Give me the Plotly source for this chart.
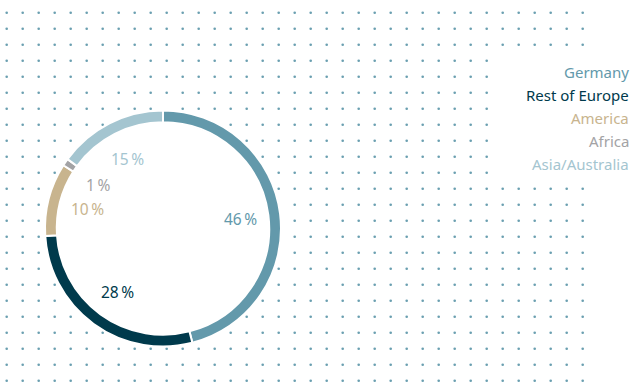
import numpy as np
import plotly.graph_objects as go

# regions and shares (%)
regions = ["Germany", "Rest of Europe", "America", "Africa", "Asia/Australia"]
shares = [46, 28, 10, 1, 15]
colors = ["#6399ab", "#003a4c", "#c8b48e", "#a3a3a5", "#a4c5d0"]

W, H = 632, 382
cx, cy, r_out = 163, 228.5, 118
r_lab = 78

fig = go.Figure()

# dotted background, skipping the donut area
gx, gy = np.meshgrid(np.arange(6.7, 590, 16), np.arange(12.7, 384, 16))
gx, gy = gx.ravel(), gy.ravel()
keep = np.hypot(gx - cx, gy - cy) > r_out + 2
fig.add_trace(go.Scatter(
    x=gx[keep], y=gy[keep], mode="markers",
    marker=dict(size=2.6, color="#6a9fb0"),
    hoverinfo="skip", showlegend=False,
))

fig.add_trace(go.Pie(
    labels=regions,
    values=shares,
    sort=False,
    direction="clockwise",
    rotation=0,
    hole=0.9,
    marker=dict(colors=colors, line=dict(color="white", width=2)),
    textinfo="none",
    hoverinfo="label+percent",
    showlegend=False,
    domain=dict(x=[(cx - r_out) / W, (cx + r_out) / W],
                y=[1 - (cy + r_out) / H, 1 - (cy - r_out) / H]),
))

# percentage labels on the inner side of the ring
total = sum(shares)
cum = 0
for name, v, c in zip(regions, shares, colors):
    mid = (cum + v / 2) / total * 2 * np.pi
    cum += v
    fig.add_annotation(
        x=cx + r_lab * np.sin(mid), y=cy - r_lab * np.cos(mid),
        xref="x", yref="y", text=f"{v}\u2009%", showarrow=False,
        font=dict(family="Noto Sans", size=15.5, color=c),
    )

# legend box (white, hides the dots)
fig.add_shape(type="rect", x0=494, x1=W, y0=53, y1=181,
              xref="x", yref="y", fillcolor="white", line_width=0, layer="above")
for i, (name, c) in enumerate(zip(regions, colors)):
    fig.add_annotation(
        x=631, y=72 + i * 23, xref="x", yref="y", text=name,
        xanchor="right", showarrow=False,
        font=dict(family="Noto Sans", size=15, color=c),
    )

fig.update_layout(
    width=W, height=H,
    margin=dict(l=0, r=0, t=0, b=0),
    paper_bgcolor="white",
    plot_bgcolor="white",
    xaxis=dict(range=[0, W], visible=False, fixedrange=True),
    yaxis=dict(range=[H, 0], visible=False, fixedrange=True),
)

# page body has an 8px default margin; drop it so the chart fills the window
fig.write_html("out.html", config={"displayModeBar": False},
               post_script="document.body.style.margin='0';")
